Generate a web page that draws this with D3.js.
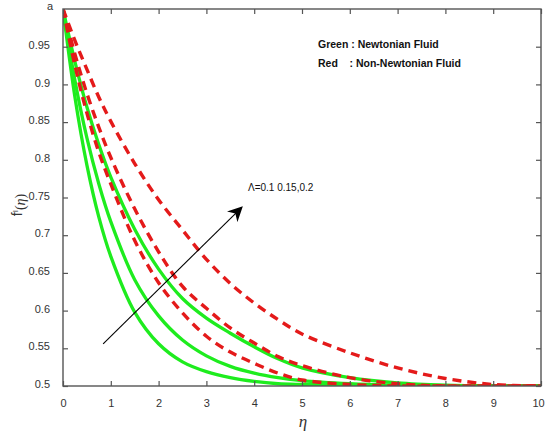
<!DOCTYPE html>
<html>
<head>
<meta charset="utf-8">
<script src="https://cdn.jsdelivr.net/npm/d3@7"></script>
<style>
  body { margin: 0; background: #fff; }
  svg { display: block; font-family: "Liberation Sans", Arial, sans-serif; }
  .tick-label { font-size: 11px; fill: #333; }
  .legend { font-size: 10.5px; font-weight: bold; fill: #111; }
</style>
</head>
<body>
<div id="chart"></div>
<script>
// sample points along eta
const etaValues = [0, 0.25, 0.5, 0.75, 1, 1.5, 2, 2.5, 3, 3.5, 4, 4.5, 5, 6, 7, 8, 9, 10];

// green : Newtonian fluid, Lambda = 0.1, 0.15, 0.2
const greenLow  = [1.0, 0.883, 0.793, 0.724, 0.672, 0.598, 0.556, 0.532, 0.519, 0.511, 0.506, 0.503, 0.502, 0.501, 0.5, 0.5, 0.5, 0.5];
const greenMid  = [1.0, 0.905, 0.829, 0.768, 0.718, 0.641, 0.593, 0.561, 0.540, 0.526, 0.517, 0.511, 0.507, 0.503, 0.501, 0.5, 0.5, 0.5];
const greenHigh = [1.0, 0.930, 0.870, 0.820, 0.777, 0.708, 0.655, 0.616, 0.590, 0.570, 0.552, 0.536, 0.524, 0.511, 0.504, 0.501, 0.5, 0.5];

// red : non-Newtonian fluid, Lambda = 0.1, 0.15, 0.2
const redLow  = [1.0, 0.925, 0.862, 0.810, 0.768, 0.693, 0.637, 0.597, 0.566, 0.545, 0.530, 0.517, 0.508, 0.502, 0.5, 0.5, 0.5, 0.5];
const redMid  = [1.0, 0.940, 0.888, 0.843, 0.803, 0.735, 0.678, 0.632, 0.603, 0.577, 0.557, 0.539, 0.527, 0.511, 0.503, 0.5, 0.5, 0.5];
const redHigh = [1.0, 0.958, 0.920, 0.883, 0.851, 0.795, 0.747, 0.707, 0.668, 0.636, 0.610, 0.588, 0.569, 0.544, 0.524, 0.510, 0.502, 0.5];

// tick labels
const xTicks = [0, 1, 2, 3, 4, 5, 6, 7, 8, 9, 10];
const yTicks = [0.5, 0.55, 0.6, 0.65, 0.7, 0.75, 0.8, 0.85, 0.9, 0.95];
const yTickLabels = ["0.5", "0.55", "0.6", "0.65", "0.7", "0.75", "0.8", "0.85", "0.9", "0.95"];

// annotation arrow (data coords) and its label
const arrowFrom = [0.84, 0.556];
const arrowTo = [3.74, 0.737];
const arrowLabel = "\u039B=0.1 0.15,0.2";

const width = 546, height = 435;
const margin = { top: 9, right: 5, bottom: 49, left: 63 };

const svg = d3.select("#chart")
  .append("svg")
    .attr("width", width)
    .attr("height", height);

const x = d3.scaleLinear().domain([0, 10]).range([margin.left, width - margin.right]);
const y = d3.scaleLinear().domain([0.5, 1]).range([height - margin.bottom, margin.top]);

// clip to the axes box
svg.append("clipPath").attr("id", "plot-clip")
  .append("rect")
    .attr("x", x(0)).attr("y", y(1))
    .attr("width", x(10) - x(0)).attr("height", y(0.5) - y(1));

const line = d3.line()
  .x(d => x(d[0]))
  .y(d => y(d[1]))
  .curve(d3.curveCatmullRom.alpha(0.5));

const toPoints = vals => etaValues.map((e, i) => [e, vals[i]]);

const plot = svg.append("g").attr("clip-path", "url(#plot-clip)");

// green solid curves
[greenLow, greenMid, greenHigh].forEach(vals => {
  plot.append("path")
    .attr("d", line(toPoints(vals)))
    .attr("fill", "none")
    .attr("stroke", "#1eec1e")
    .attr("stroke-width", 3.3);
});

// red dashed curves (drawn on top)
[redLow, redMid, redHigh].forEach(vals => {
  plot.append("path")
    .attr("d", line(toPoints(vals)))
    .attr("fill", "none")
    .attr("stroke", "#e41a1a")
    .attr("stroke-width", 3.4)
    .attr("stroke-dasharray", "9,6");
});

// axes box
const axisColor = "#555";
svg.append("rect")
  .attr("x", x(0)).attr("y", y(1))
  .attr("width", x(10) - x(0)).attr("height", y(0.5) - y(1))
  .attr("fill", "none")
  .attr("stroke", axisColor)
  .attr("stroke-width", 1.4);

// x axis (bottom) and mirrored ticks on top, ticks pointing inwards
svg.append("g")
  .attr("transform", `translate(0, ${y(0.5)})`)
  .call(d3.axisBottom(x).tickValues(xTicks).tickSize(-5).tickPadding(13).tickFormat(d3.format("d")))
  .call(g => g.select(".domain").remove())
  .call(g => g.selectAll(".tick line").attr("stroke", axisColor).attr("stroke-width", 1.2))
  .call(g => g.selectAll(".tick text").attr("class", "tick-label").attr("font-family", null).attr("font-size", null))
  .call(g => g.selectAll(".tick text").filter(d => d === 10).attr("dx", "-3"));

svg.append("g")
  .attr("transform", `translate(0, ${y(1)})`)
  .call(d3.axisTop(x).tickValues(xTicks).tickSize(-5).tickFormat(""))
  .call(g => g.select(".domain").remove())
  .call(g => g.selectAll(".tick line").attr("stroke", axisColor).attr("stroke-width", 1.2));

// y axis (left) and mirrored ticks on the right
svg.append("g")
  .attr("transform", `translate(${x(0)}, 0)`)
  .call(d3.axisLeft(y).tickValues(yTicks).tickSize(-5).tickPadding(13).tickFormat((d, i) => yTickLabels[i]))
  .call(g => g.select(".domain").remove())
  .call(g => g.selectAll(".tick line").attr("stroke", axisColor).attr("stroke-width", 1.2))
  .call(g => g.selectAll(".tick text").attr("class", "tick-label").attr("font-family", null).attr("font-size", null).attr("dy", "0.15em"));

svg.append("g")
  .attr("transform", `translate(${x(10)}, 0)`)
  .call(d3.axisRight(y).tickValues(yTicks).tickSize(-5).tickFormat(""))
  .call(g => g.select(".domain").remove())
  .call(g => g.selectAll(".tick line").attr("stroke", axisColor).attr("stroke-width", 1.2));

// the "a" at the top-left corner
svg.append("text")
  .attr("class", "tick-label")
  .attr("x", x(0) - 13)
  .attr("y", y(1) + 1)
  .attr("text-anchor", "middle")
  .text("a");

// x axis title
svg.append("text")
  .attr("x", x(5) + 1)
  .attr("y", y(0.5) + 41)
  .attr("text-anchor", "middle")
  .style("font-family", "'Liberation Serif', 'Times New Roman', serif")
  .style("font-style", "italic")
  .style("font-size", "17px")
  .style("fill", "#333")
  .text("\u03B7");

// y axis title: f^I(eta)
const yTitle = svg.append("text")
  .attr("transform", `translate(22, ${y(0.74)}) rotate(-90)`)
  .attr("text-anchor", "middle")
  .style("font-size", "14px")
  .style("fill", "#333");
yTitle.append("tspan").text("f");
yTitle.append("tspan").attr("dy", "-0.45em").style("font-size", "8px").text("I");
yTitle.append("tspan").attr("dy", "0.45em")
  .style("font-family", "'Liberation Serif', serif").text("(");
yTitle.append("tspan")
  .style("font-family", "'Liberation Serif', serif").style("font-style", "italic").text("\u03B7");
yTitle.append("tspan")
  .style("font-family", "'Liberation Serif', serif").text(")");

// legend text
svg.append("text").attr("class", "legend")
  .attr("x", 318).attr("y", 48)
  .text("Green : Newtonian Fluid");
svg.append("text").attr("class", "legend")
  .attr("x", 318).attr("y", 67)
  .attr("xml:space", "preserve")
  .style("white-space", "pre")
  .text("Red    : Non-Newtonian Fluid");

// arrow annotation
svg.append("defs").append("marker")
  .attr("id", "arrowhead")
  .attr("viewBox", "0 0 10 10")
  .attr("refX", 9).attr("refY", 5)
  .attr("markerWidth", 15).attr("markerHeight", 15)
  .attr("markerUnits", "userSpaceOnUse")
  .attr("orient", "auto")
  .append("path")
    .attr("d", "M0,0 L10,5 L0,10 L3,5 Z")
    .attr("fill", "#000");

svg.append("line")
  .attr("x1", x(arrowFrom[0])).attr("y1", y(arrowFrom[1]))
  .attr("x2", x(arrowTo[0])).attr("y2", y(arrowTo[1]))
  .attr("stroke", "#000")
  .attr("stroke-width", 1.1)
  .attr("marker-end", "url(#arrowhead)");

svg.append("text")
  .attr("x", x(3.87))
  .attr("y", y(0.759))
  .style("font-size", "10px")
  .style("fill", "#111")
  .text(arrowLabel);
</script>
</body>
</html>
